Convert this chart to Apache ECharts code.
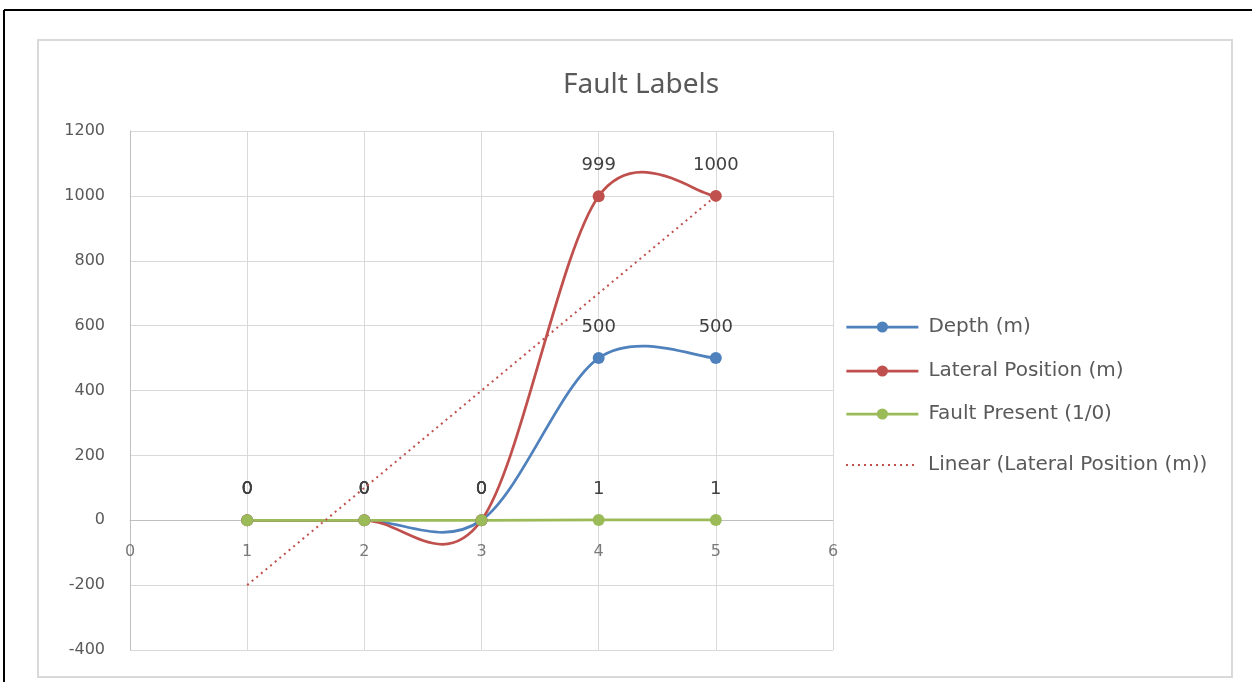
<!DOCTYPE html>
<html>
<head>
<meta charset="utf-8">
<title>Fault Labels</title>
<script src="https://cdn.jsdelivr.net/npm/echarts@6/dist/echarts.min.js"></script>
<style>
  html, body { margin: 0; padding: 0; background: #ffffff; }
  #chart { width: 1252px; height: 682px; }
</style>
</head>
<body>
<div id="chart"></div>
<script>
// Sample positions along the section
const positions = [1, 2, 3, 4, 5];
// Measured values at each position
const depth = [0, 0, 0, 500, 500];
const lateral = [0, 0, 0, 999, 1000];
const faultPresent = [0, 0, 0, 1, 1];
// Linear fit of the lateral position (end points)
const trendX = [1, 5];
const trendY = [-200, 999.6];
// Axis ranges and the x tick labels written along the zero line
const xRange = { min: 0, max: 6, step: 1 };
const yRange = { min: -400, max: 1200, step: 200 };
const xTickLabels = [0, 1, 2, 3, 4, 5, 6];

const FONT = '"DejaVu Sans", "Noto Sans", sans-serif';
const TITLE_FONT = '"Noto Sans", "Open Sans", sans-serif';
const COLORS = { depth: '#4f81bd', lateral: '#c0504d', fault: '#9bbb59' };
const pairs = (xs, ys) => xs.map((x, i) => [x, ys[i]]);

const chart = echarts.init(document.getElementById('chart'));

// Smoothed connecting curve (Catmull-Rom style Bezier through the points,
// computed in pixel space from the axis coordinates).
function curveSeries(id, ys, color) {
  const n = ys.length;
  return {
    id: id,
    type: 'custom',
    data: pairs(positions, ys),
    silent: true,
    z: 2,
    renderItem: function (params, api) {
      const i = params.dataIndex;
      if (i >= n - 1) return null;
      const P = k => {
        const j = Math.max(0, Math.min(n - 1, k));
        return api.coord([positions[j], ys[j]]);
      };
      const p0 = P(i - 1), p1 = P(i), p2 = P(i + 1), p3 = P(i + 2);
      const t = 1 / 6;
      return {
        type: 'bezierCurve',
        shape: {
          x1: p1[0], y1: p1[1], x2: p2[0], y2: p2[1],
          cpx1: p1[0] + (p2[0] - p0[0]) * t, cpy1: p1[1] + (p2[1] - p0[1]) * t,
          cpx2: p2[0] - (p3[0] - p1[0]) * t, cpy2: p2[1] - (p3[1] - p1[1]) * t
        },
        style: { stroke: color, lineWidth: 2.75, fill: null }
      };
    }
  };
}

// Point markers with value labels
function markerSeries(name, ys, color) {
  return {
    name: name,
    type: 'line',
    data: pairs(positions, ys),
    symbol: 'circle',
    symbolSize: 12,
    itemStyle: { color: color },
    lineStyle: { color: color, width: 2.75, opacity: 0 },
    label: {
      show: true,
      position: 'top',
      distance: 16,
      color: '#404040',
      fontFamily: FONT,
      fontSize: 18,
      formatter: p => String(p.value[1])
    },
    emphasis: { disabled: true },
    z: 3
  };
}

function legendAt(centerY, item) {
  return {
    left: 845, top: centerY - 9, orient: 'vertical', padding: 0,
    itemWidth: 72, itemHeight: 14, selectedMode: false,
    data: [item],
    textStyle: { color: '#595959', fontFamily: FONT, fontSize: 20, padding: [0, 0, 0, 5] }
  };
}

chart.setOption({
  animation: false,
  backgroundColor: '#ffffff',
  title: {
    text: 'Fault Labels',
    left: 636,
    top: 66,
    textAlign: 'center',
    textStyle: { color: '#595959', fontFamily: TITLE_FONT, fontSize: 28, fontWeight: 'normal' }
  },
  graphic: [
    { type: 'line', shape: { x1: 4, y1: 10, x2: 1252, y2: 10 }, style: { stroke: '#000', lineWidth: 2 } },
    { type: 'line', shape: { x1: 4, y1: 10, x2: 4, y2: 682 }, style: { stroke: '#000', lineWidth: 2 } },
    { type: 'rect', shape: { x: 38, y: 40, width: 1194, height: 637 }, style: { fill: 'none', stroke: '#d9d9d9', lineWidth: 2 } }
  ],
  grid: { left: 130, right: 419, top: 131, bottom: 32, containLabel: false, outerBoundsMode: 'none' },
  legend: [
    legendAt(326, { name: 'Depth (m)', lineStyle: { opacity: 1, width: 2.75, color: COLORS.depth } }),
    legendAt(370, { name: 'Lateral Position (m)', lineStyle: { opacity: 1, width: 2.75, color: COLORS.lateral } }),
    legendAt(413, { name: 'Fault Present (1/0)', lineStyle: { opacity: 1, width: 2.75, color: COLORS.fault } }),
    legendAt(464, { name: 'Linear (Lateral Position (m))', itemStyle: { opacity: 0 } })
  ],
  xAxis: {
    type: 'value',
    min: xRange.min, max: xRange.max, interval: xRange.step,
    axisLine: { show: true, onZero: true, lineStyle: { color: '#bfbfbf', width: 1 } },
    axisTick: { show: false },
    splitLine: { show: true, lineStyle: { color: '#d9d9d9', width: 1 } },
    axisLabel: { show: false }
  },
  yAxis: {
    type: 'value',
    min: yRange.min, max: yRange.max, interval: yRange.step,
    axisLine: { show: true, onZero: false, lineStyle: { color: '#bfbfbf', width: 1 } },
    axisTick: { show: false },
    splitLine: { show: true, lineStyle: { color: '#d9d9d9', width: 1 } },
    axisLabel: { color: '#595959', fontFamily: FONT, fontSize: 16, margin: 25, formatter: v => String(v) }
  },
  series: [
    // x tick labels hung just below the zero line
    {
      id: 'x-tick-labels',
      type: 'scatter',
      data: xTickLabels.map(v => [v, 0]),
      symbolSize: 0,
      clip: false,
      silent: true,
      label: {
        show: true,
        position: 'bottom',
        distance: 24,
        color: '#595959',
        fontFamily: FONT,
        fontSize: 16,
        formatter: p => String(p.value[0])
      },
      z: 1
    },
    curveSeries('depth-curve', depth, COLORS.depth),
    curveSeries('lateral-curve', lateral, COLORS.lateral),
    curveSeries('fault-curve', faultPresent, COLORS.fault),
    markerSeries('Depth (m)', depth, COLORS.depth),
    markerSeries('Lateral Position (m)', lateral, COLORS.lateral),
    markerSeries('Fault Present (1/0)', faultPresent, COLORS.fault),
    {
      name: 'Linear (Lateral Position (m))',
      type: 'line',
      data: pairs(trendX, trendY),
      symbol: 'none',
      lineStyle: { color: '#c0504d', width: 2, type: [2, 4] },
      itemStyle: { color: '#c0504d' },
      emphasis: { disabled: true },
      z: 4
    }
  ]
});
</script>
</body>
</html>
